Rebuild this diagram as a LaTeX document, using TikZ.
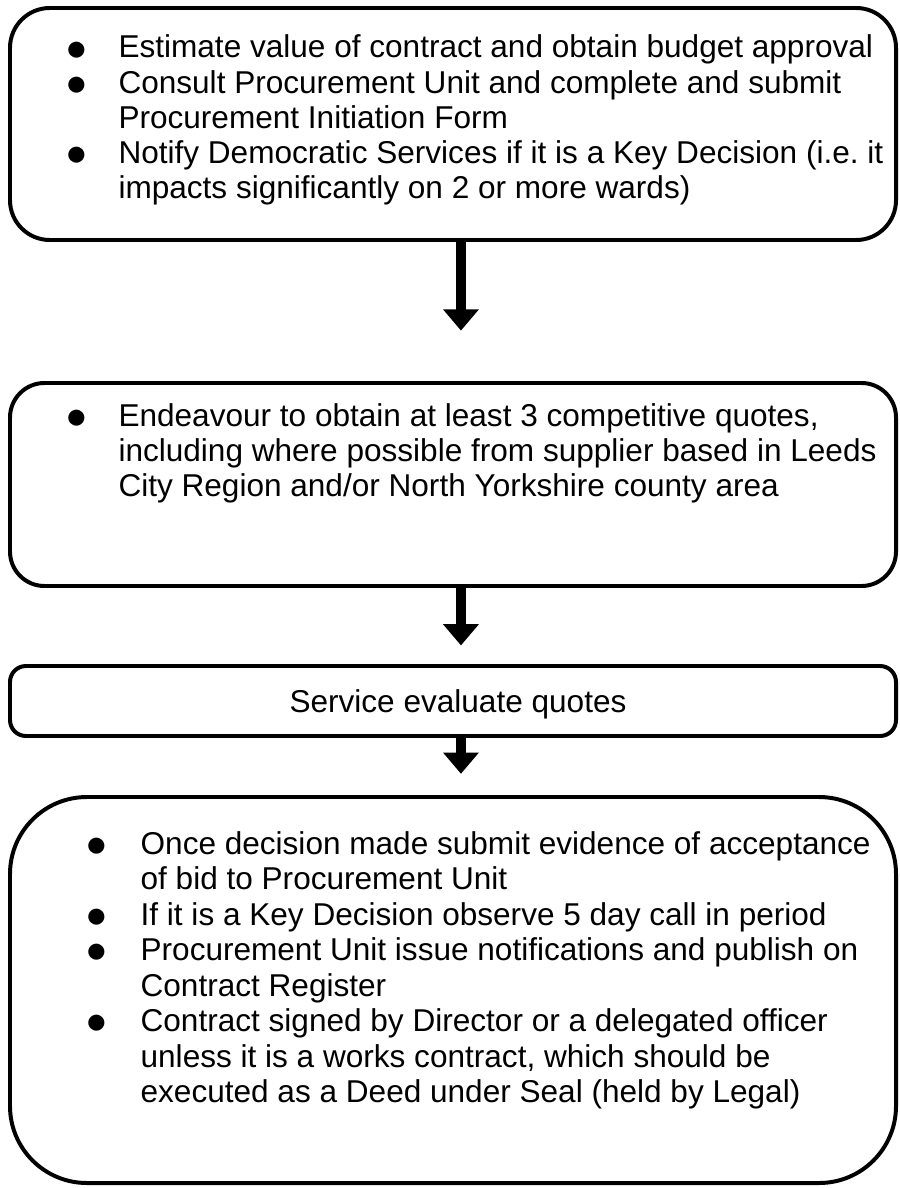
\documentclass[tikz,border=0pt]{standalone}
\usepackage{fontspec}
\setmainfont{Liberation Sans}
\usetikzlibrary{arrows.meta,fit,positioning}
\frenchspacing
\newcommand{\bigdot}{\raisebox{-0.8pt}{\scalebox{1.3}{$\bullet$}}}

\begin{document}
\begin{tikzpicture}[
  x=0.377pt, y=-0.377pt,
  stage/.style={draw, line width=1.5pt, inner sep=0pt},
  items/.style={anchor=base west, inner sep=0pt, font=\fontsize{11.9}{13.2}\selectfont},
  flow/.style={-{Triangle[width=13pt,length=8pt]}, line width=4pt}
]
\useasboundingbox (0,0) rectangle (899,1188);

% Stufen
\node[stage, rounded corners=15pt, fit={(10,8) (896,240)}]   (plan)   {};
\node[stage, rounded corners=13pt, fit={(10,383) (896,586)}] (quotes) {};
\node[stage, rounded corners=6pt,  fit={(10,666) (896,736)}] (eval)   {};
\node[stage, rounded corners=29pt, fit={(10,797) (896,1183)}] (award) {};

% Texte
\node[items] (plantxt) at (66,58) {\begin{tabular}[t]{@{}p{19.6pt}@{}l@{}}
\bigdot & Estimate value of contract and obtain budget approval\\
\bigdot & Consult Procurement Unit and complete and submit\\
        & Procurement Initiation Form\\
\bigdot & Notify Democratic Services if it is a Key Decision (i.e. it\\
        & impacts significantly on 2 or more wards)
\end{tabular}};
\node[items] (quotestxt) at (66,426) {\begin{tabular}[t]{@{}p{19.6pt}@{}l@{}}
\bigdot & Endeavour to obtain at least 3 competitive quotes,\\
        & including where possible from supplier based in Leeds\\
        & City Region and/or North Yorkshire county area
\end{tabular}};
\node[items, anchor=base] (evaltxt) at (458,712) {Service evaluate quotes};
\node[items, font=\fontsize{11.9}{13.4}\selectfont] (awardtxt) at (86,854) {\begin{tabular}[t]{@{}p{20.4pt}@{}l@{}}
\bigdot & Once decision made submit evidence of acceptance\\
        & of bid to Procurement Unit\\
\bigdot & If it is a Key Decision observe 5 day call in period\\
\bigdot & Procurement Unit issue notifications and publish on\\
        & Contract Register\\
\bigdot & Contract signed by Director or a delegated officer\\
        & unless it is a works contract, which should be\\
        & executed as a Deed under Seal (held by Legal)
\end{tabular}};

% Pfeile
\draw[flow, shorten >=19pt] ([xshift=3pt]plan.south)   -- ([xshift=3pt]quotes.north);
\draw[flow, shorten >=7pt]  ([xshift=3pt]quotes.south) -- ([xshift=3pt]eval.north);
\draw[flow, shorten >=8pt]  ([xshift=3pt]eval.south)   -- ([xshift=3pt]award.north);
\end{tikzpicture}
\end{document}
